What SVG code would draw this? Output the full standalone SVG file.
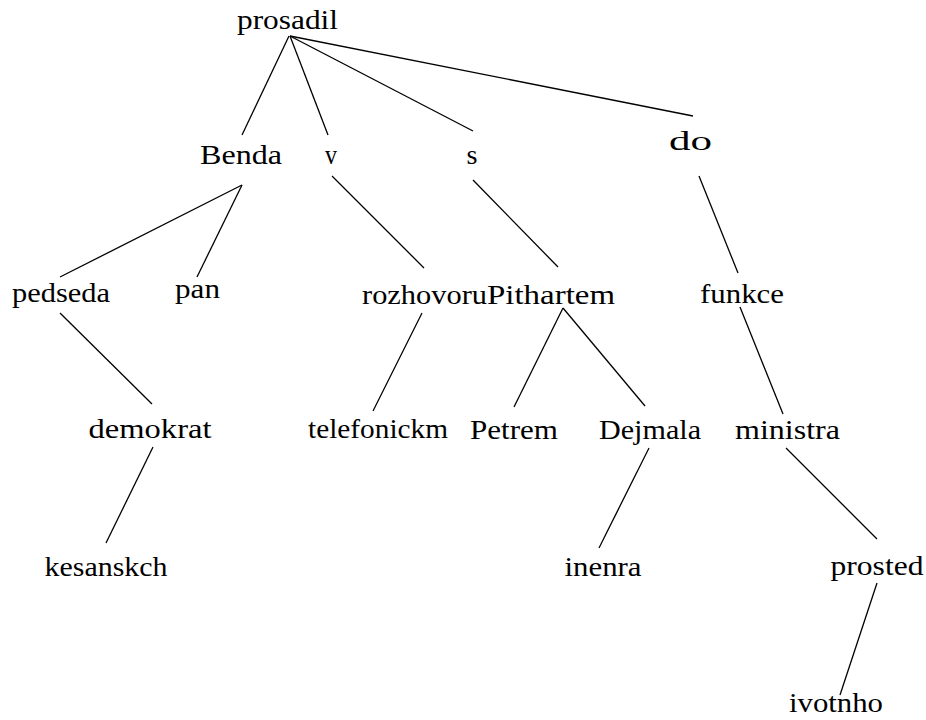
<svg xmlns="http://www.w3.org/2000/svg" width="926" height="720" viewBox="0 0 926 720">
<style>
.n text{font-family:"Liberation Serif","Times New Roman",serif;font-size:28px;fill:#000;text-anchor:middle}
.e line{stroke:#000;stroke-width:1.3;fill:none}
</style>
<rect width="926" height="720" fill="#fff"/>
<g id="edges" class="e">
<line x1="289" y1="36" x2="242" y2="135"/>
<line x1="290" y1="36" x2="328" y2="135"/>
<line x1="290" y1="36" x2="473" y2="131"/>
<line x1="290" y1="36" x2="693" y2="116"/>
<line x1="242" y1="185" x2="60" y2="277"/>
<line x1="242" y1="185" x2="197" y2="277"/>
<line x1="332" y1="176" x2="424" y2="268"/>
<line x1="473" y1="180" x2="558" y2="267"/>
<line x1="699" y1="176" x2="738" y2="273"/>
<line x1="60" y1="313" x2="152" y2="404"/>
<line x1="422" y1="313" x2="373" y2="411"/>
<line x1="563" y1="308" x2="514" y2="407"/>
<line x1="563" y1="308" x2="645" y2="406"/>
<line x1="740" y1="307" x2="783" y2="414"/>
<line x1="153" y1="447" x2="106" y2="543"/>
<line x1="649" y1="448" x2="599" y2="548"/>
<line x1="786" y1="448" x2="877" y2="539"/>
<line x1="877" y1="583" x2="840" y2="695"/>
</g>
<g class="n">
<g id="n-prosadil"><text x="287.5" y="29" textLength="101" lengthAdjust="spacingAndGlyphs">prosadil</text></g>
<g id="n-Benda"><text x="241" y="164" textLength="82" lengthAdjust="spacingAndGlyphs">Benda</text></g>
<g id="n-v"><text x="331" y="164" textLength="12" lengthAdjust="spacingAndGlyphs">v</text></g>
<g id="n-s"><text x="472" y="164" textLength="11" lengthAdjust="spacingAndGlyphs">s</text></g>
<g id="n-do"><text x="690.5" y="150" textLength="43" lengthAdjust="spacingAndGlyphs">do</text></g>
<g id="n-pedseda"><text x="61" y="302" textLength="98" lengthAdjust="spacingAndGlyphs">pedseda</text></g>
<g id="n-pan"><text x="197.5" y="298" textLength="45" lengthAdjust="spacingAndGlyphs">pan</text></g>
<g id="n-rozhovoru"><text x="424.5" y="304" textLength="125" lengthAdjust="spacingAndGlyphs">rozhovoru</text></g>
<g id="n-Pithartem"><text x="551" y="304" textLength="128" lengthAdjust="spacingAndGlyphs">Pithartem</text></g>
<g id="n-funkce"><text x="742" y="303" textLength="84" lengthAdjust="spacingAndGlyphs">funkce</text></g>
<g id="n-demokrat"><text x="150" y="438" textLength="123" lengthAdjust="spacingAndGlyphs">demokrat</text></g>
<g id="n-telefonickm"><text x="378" y="438" textLength="140" lengthAdjust="spacingAndGlyphs">telefonickm</text></g>
<g id="n-Petrem"><text x="514" y="439" textLength="88" lengthAdjust="spacingAndGlyphs">Petrem</text></g>
<g id="n-Dejmala"><text x="650" y="439" textLength="102" lengthAdjust="spacingAndGlyphs">Dejmala</text></g>
<g id="n-ministra"><text x="787.5" y="439" textLength="105" lengthAdjust="spacingAndGlyphs">ministra</text></g>
<g id="n-kesanskch"><text x="106" y="576" textLength="123" lengthAdjust="spacingAndGlyphs">kesanskch</text></g>
<g id="n-inenra"><text x="603" y="576" textLength="77" lengthAdjust="spacingAndGlyphs">inenra</text></g>
<g id="n-prosted"><text x="877" y="575" textLength="93" lengthAdjust="spacingAndGlyphs">prosted</text></g>
<g id="n-ivotnho"><text x="836" y="712" textLength="94" lengthAdjust="spacingAndGlyphs">ivotnho</text></g>
</g>
</svg>
